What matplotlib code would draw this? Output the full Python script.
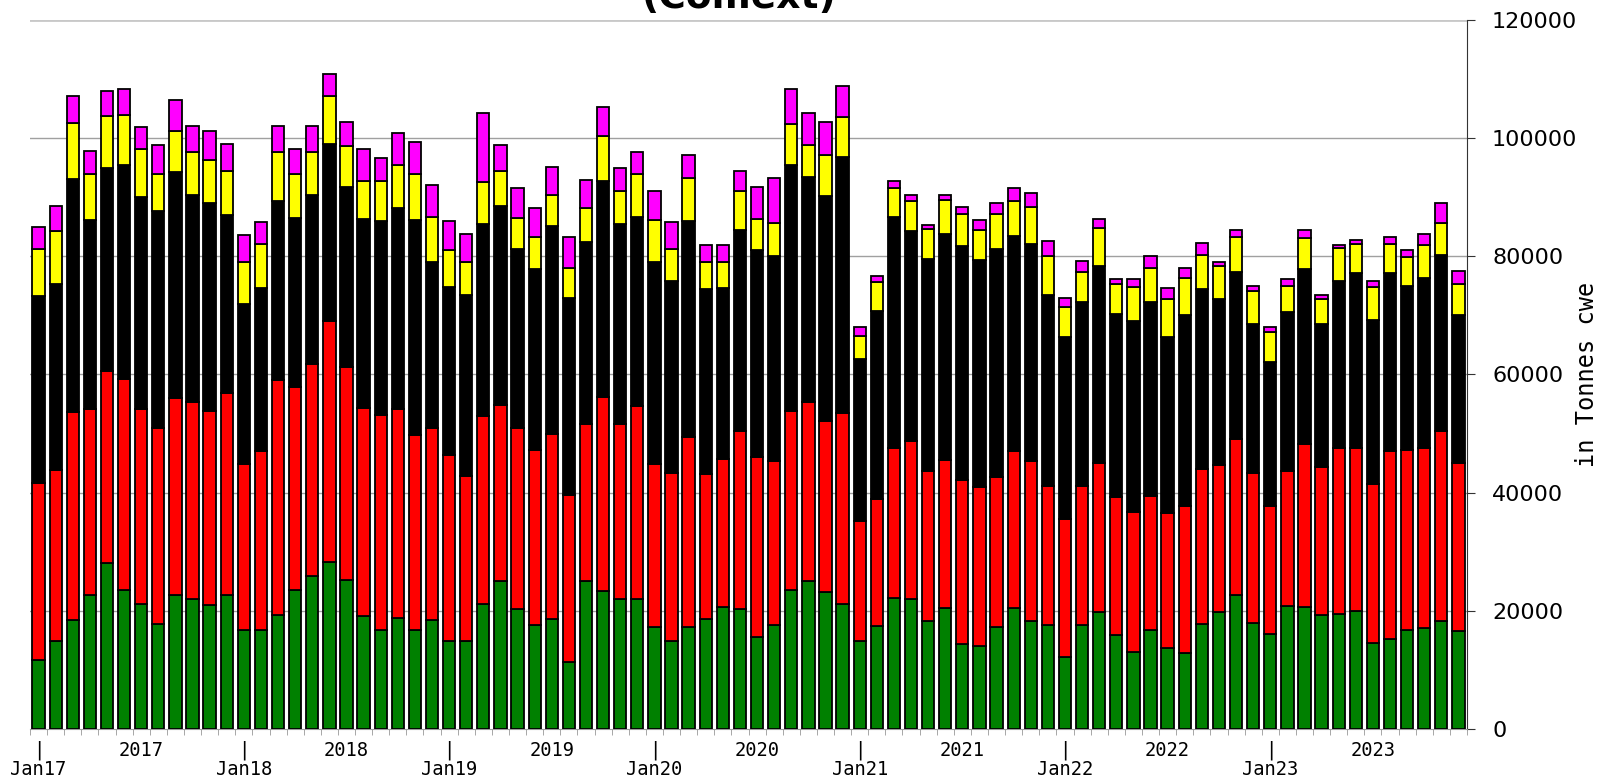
import numpy as np
import matplotlib
matplotlib.use("Agg")
import matplotlib.pyplot as plt
from matplotlib.ticker import FixedLocator

# monthly values, thousand tonnes cwe, Jan 2017 .. Dec 2023
years = [2017, 2018, 2019, 2020, 2021, 2022, 2023]

green = [11.7, 14.9, 18.5, 22.6, 28.1, 23.6, 21.2, 17.8, 22.6, 22.0, 21.0, 22.6,
         16.8, 16.8, 19.3, 23.5, 25.9, 28.3, 25.2, 19.1, 16.8, 18.8, 16.8, 18.4,
         14.9, 14.9, 21.2, 25.1, 20.3, 17.6, 18.6, 11.4, 25.0, 23.3, 22.0, 22.0,
         17.2, 14.9, 17.3, 18.6, 20.6, 20.3, 15.6, 17.6, 23.6, 25.1, 23.2, 21.2,
         14.9, 17.5, 22.1, 22.0, 18.3, 20.5, 14.4, 14.1, 17.3, 20.4, 18.3, 17.6,
         12.2, 17.6, 19.8, 15.9, 13.1, 16.8, 13.7, 12.9, 17.8, 19.8, 22.7, 18.0,
         16.1, 20.9, 20.6, 19.3, 19.5, 19.9, 14.6, 15.3, 16.7, 17.1, 18.3, 16.6]

red = [30.0, 29.0, 35.2, 31.6, 32.5, 35.6, 33.0, 33.2, 33.5, 33.4, 32.9, 34.3,
       28.1, 30.3, 39.7, 34.4, 35.9, 40.7, 36.1, 35.3, 36.4, 35.4, 33.0, 32.6,
       31.4, 28.0, 31.8, 29.8, 30.7, 29.6, 31.4, 28.2, 26.7, 32.9, 29.6, 32.7,
       27.7, 28.5, 32.2, 24.6, 25.1, 30.2, 30.5, 27.8, 30.3, 30.2, 29.0, 32.3,
       20.3, 21.5, 25.5, 26.8, 25.3, 25.1, 27.8, 26.9, 25.3, 26.7, 27.0, 23.6,
       23.3, 23.6, 25.3, 23.4, 23.7, 22.7, 22.8, 24.9, 26.2, 24.8, 26.3, 25.4,
       21.7, 22.7, 27.7, 25.1, 28.1, 27.7, 26.9, 31.8, 30.6, 30.5, 32.2, 28.4]

black = [31.6, 31.5, 39.4, 32.0, 34.3, 36.3, 35.9, 36.6, 38.2, 34.9, 35.2, 30.1,
         27.1, 27.6, 30.4, 28.6, 28.5, 30.0, 30.4, 31.9, 32.7, 33.9, 36.4, 28.1,
         28.5, 30.5, 32.4, 33.7, 30.3, 30.7, 35.2, 33.4, 30.8, 36.6, 33.8, 32.0,
         34.1, 32.5, 36.4, 31.2, 29.0, 34.0, 35.0, 34.7, 41.6, 38.1, 38.0, 43.3,
         27.5, 31.8, 39.1, 35.5, 36.0, 38.2, 39.6, 38.4, 38.7, 36.4, 36.8, 32.2,
         30.9, 31.0, 33.3, 31.0, 32.2, 32.7, 29.9, 32.3, 30.4, 28.1, 28.4, 25.1,
         24.4, 26.9, 29.6, 24.1, 28.3, 29.5, 27.7, 30.0, 27.6, 28.8, 29.8, 25.0]

yellow = [7.9, 8.9, 9.5, 7.7, 8.8, 8.4, 8.0, 6.3, 6.9, 7.4, 7.2, 7.4,
          7.1, 7.4, 8.3, 7.4, 7.4, 8.1, 7.0, 6.5, 6.9, 7.4, 7.7, 7.6,
          6.3, 5.7, 7.2, 5.9, 5.2, 5.4, 5.1, 5.1, 5.6, 7.6, 5.6, 7.2,
          7.2, 5.4, 7.3, 4.6, 4.3, 6.5, 5.3, 5.5, 6.9, 5.5, 7.0, 6.7,
          3.8, 4.8, 4.9, 5.1, 5.1, 5.8, 5.4, 5.0, 5.8, 5.8, 6.3, 6.7,
          5.1, 5.2, 6.4, 5.1, 5.8, 5.9, 6.3, 6.3, 5.9, 5.7, 5.9, 5.7,
          5.0, 4.5, 5.2, 4.2, 5.5, 5.0, 5.6, 5.0, 5.0, 5.6, 5.3, 5.4]

magenta = [3.8, 4.2, 4.5, 3.9, 4.2, 4.4, 3.8, 4.9, 5.3, 4.3, 4.9, 4.6,
           4.5, 3.7, 4.3, 4.2, 4.3, 3.7, 4.1, 5.3, 3.8, 5.3, 5.4, 5.3,
           4.9, 4.7, 11.7, 4.4, 5.0, 4.9, 4.8, 5.2, 4.8, 4.9, 3.9, 3.7,
           4.9, 4.5, 3.9, 3.0, 3.0, 3.4, 5.3, 7.6, 5.9, 5.3, 5.5, 5.3,
           1.6, 1.0, 1.2, 1.0, 0.6, 0.8, 1.2, 1.8, 1.9, 2.2, 2.3, 2.5,
           1.5, 1.8, 1.5, 0.8, 1.4, 1.9, 1.9, 1.6, 1.9, 0.7, 1.1, 0.7,
           0.9, 1.2, 1.3, 0.7, 0.5, 0.7, 1.1, 1.2, 1.2, 1.8, 3.4, 2.1]

series = [green, red, black, yellow, magenta]
colors = ["#008000", "#ff0000", "#000000", "#ffff00", "#ff00ff"]

fig = plt.figure(figsize=(16.09, 7.79), dpi=100)
ax = fig.add_axes([30 / 1609, 50 / 779, 1437 / 1609, 709 / 779])

x = np.arange(len(green))
bottom = np.zeros(len(green))
for vals, col in zip(series, colors):
    v = np.array(vals) * 1000
    ax.bar(x, v, bottom=bottom, width=0.72, color=col, edgecolor="black",
           linewidth=1.3, zorder=3)
    bottom += v

# gridlines
for yv in range(20000, 120000, 20000):
    ax.axhline(yv, color="#a0a0a0", linewidth=1.0, zorder=1)
ax.axhline(120000, color="#c8c8c8", linewidth=2.0, zorder=1)

ax.set_xlim(-0.5, len(green) - 0.5)
ax.set_ylim(0, 120000)

# right axis only
ax.spines["left"].set_visible(False)
ax.spines["top"].set_visible(False)
ax.spines["right"].set_color("#333333")
ax.spines["bottom"].set_color("#999999")
ax.yaxis.tick_right()
ax.set_yticks(range(0, 120001, 20000))
ax.set_yticklabels([str(v) for v in range(0, 120001, 20000)],
                   fontsize=16, family="DejaVu Sans")
ax.tick_params(axis="y", direction="out", length=6, pad=12, color="#333333")

# x labels: "|" + JanYY at January, year in the middle
pos, labels = [], []
for i, yr in enumerate(years):
    pos.append(12 * i)
    labels.append("|\nJan" + str(yr)[2:])
    pos.append(12 * i + 6)
    labels.append(str(yr))
ax.set_xticks(pos)
ax.set_xticklabels(labels, fontsize=13.5, family="DejaVu Sans Mono",
                   linespacing=1.0, va="top")
ax.tick_params(axis="x", which="major", length=0, pad=8.5)
ax.xaxis.set_minor_locator(FixedLocator(np.arange(-0.5, len(green), 1.0)))
ax.tick_params(axis="x", which="minor", direction="out", length=4,
               color="#999999")

fig.text(1587 / 1609, 0.52, "in Tonnes cwe", rotation=90, fontsize=17,
         family="DejaVu Sans Mono", ha="center", va="center")

# title, partly outside the canvas as in the source
fig.text(739 / 1609, 771 / 779, "(Comext)", fontsize=27, fontweight="bold",
         ha="center", va="baseline")

fig.savefig("out.png", dpi=100)
